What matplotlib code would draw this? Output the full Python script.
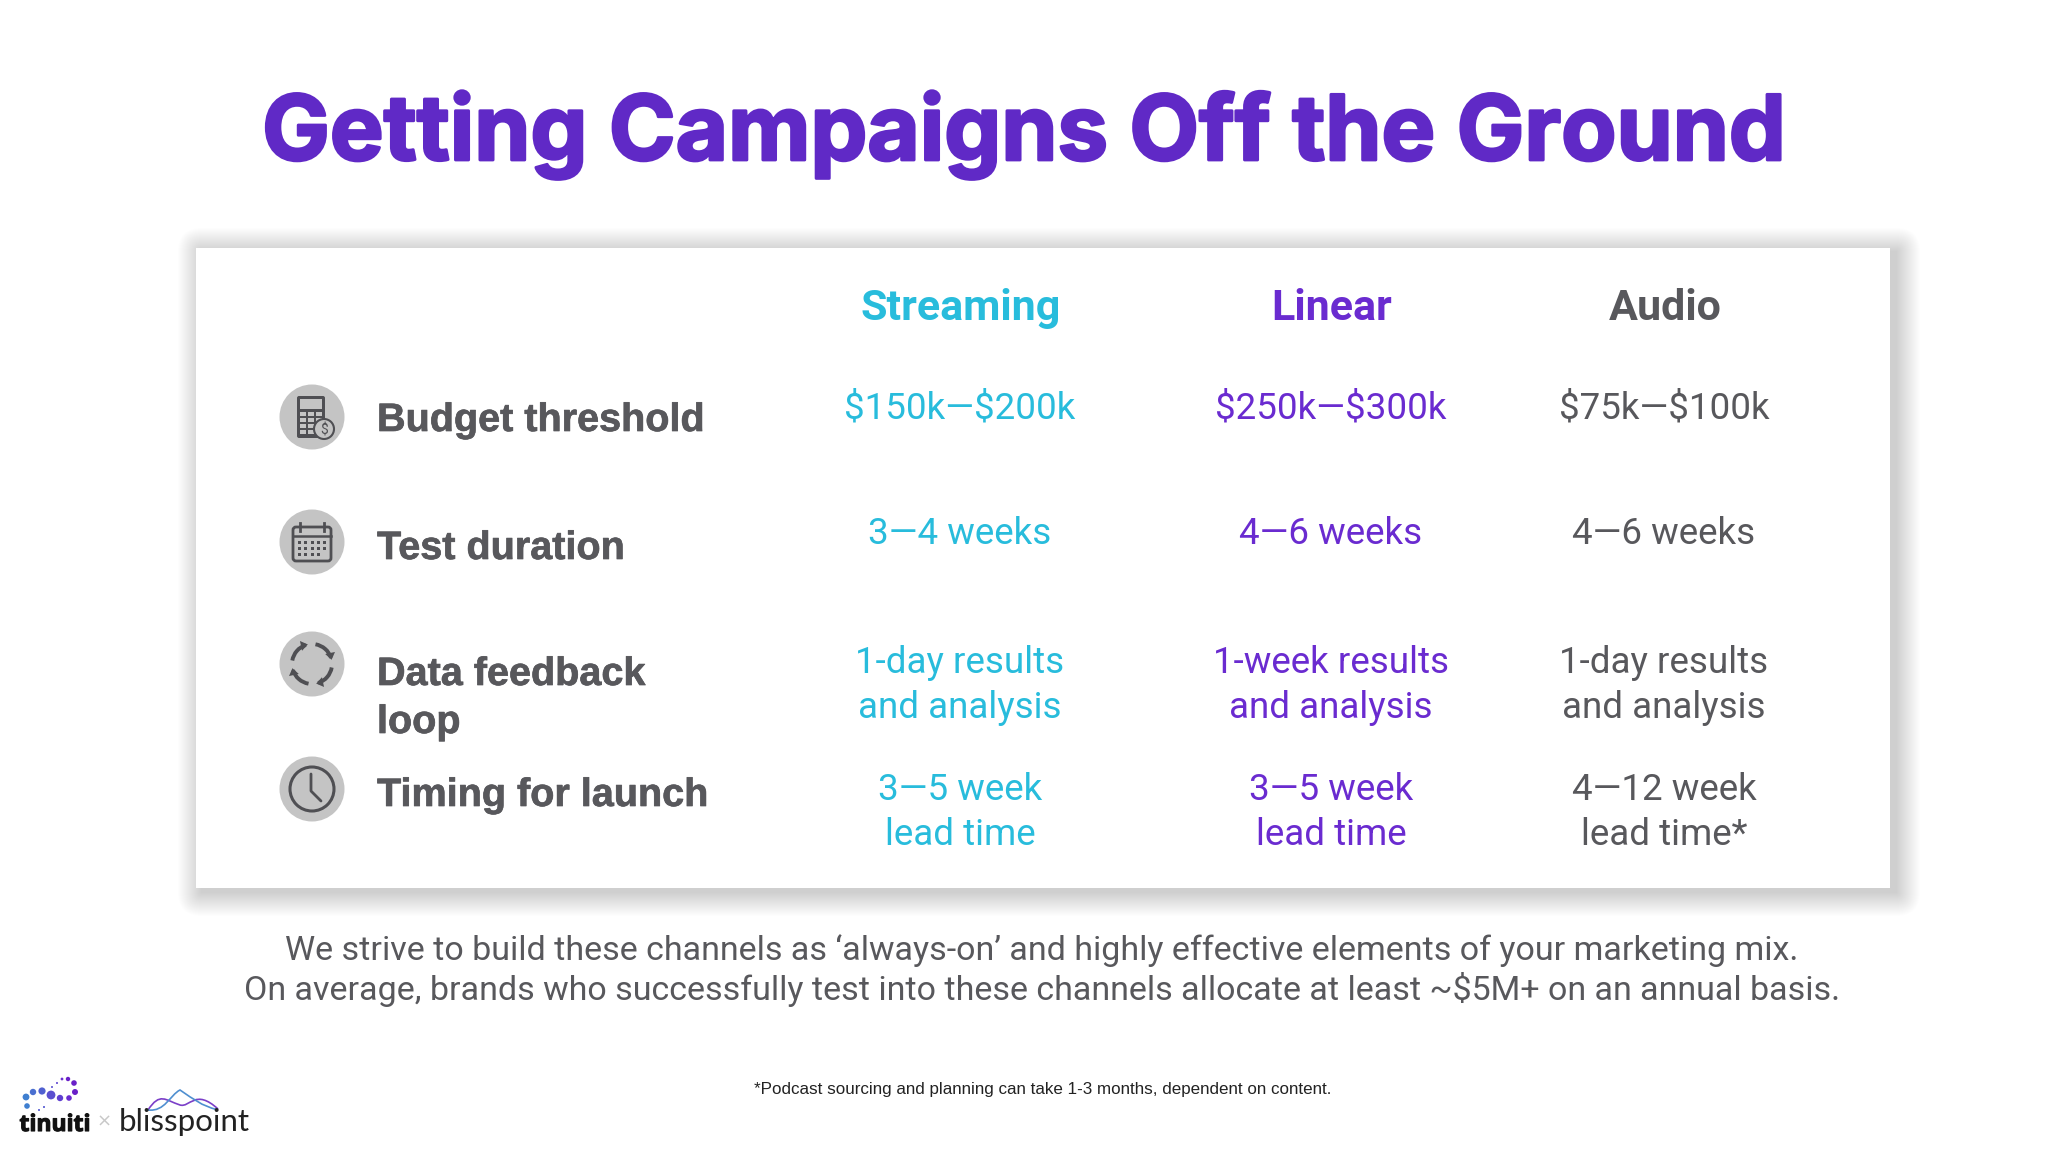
import numpy as np
import matplotlib
matplotlib.use("Agg")
import matplotlib.pyplot as plt
import matplotlib.patheffects as pe
from matplotlib.patches import Circle, Rectangle, FancyBboxPatch, Arc, Polygon, PathPatch
from matplotlib.path import Path

title = "Getting Campaigns Off the Ground"
channels = ["Streaming", "Linear", "Audio"]
row_labels = ["Budget threshold", "Test duration", "Data feedback\nloop", "Timing for launch"]
streaming_vals = ["$150k—$200k", "3—4 weeks", "1-day results\nand analysis", "3—5 week\nlead time"]
linear_vals = ["$250k—$300k", "4—6 weeks", "1-week results\nand analysis", "3—5 week\nlead time"]
audio_vals = ["$75k—$100k", "4—6 weeks", "1-day results\nand analysis", "4—12 week\nlead time*"]
bottom_lines = ["We strive to build these channels as ‘always-on’ and highly effective elements of your marketing mix.",
                "On average, brands who successfully test into these channels allocate at least ~$5M+ on an annual basis."]
footnote = "*Podcast sourcing and planning can take 1-3 months, dependent on content."

PURPLE = "#6a2bd0"
TITLE_PURPLE = "#6029c6"
CYAN = "#28bcdc"
GREY = "#58585c"
ICON = "#4f4f53"
ICON_BG = "#c4c4c4"

col_x = [960, 1331, 1664]
col_colors = [CYAN, PURPLE, GREY]
row_base = [419, 544, [673, 718], [800, 845]]
label_base = [431, 559, [685, 733], 806]
icon_y = [417, 542, 664, 789]
icon_x = 312

fig = plt.figure(figsize=(20.48, 11.52), dpi=100)
ax = fig.add_axes([0, 0, 1, 1])
ax.set_xlim(0, 2048)
ax.set_ylim(1152, 0)
ax.axis("off")

# title
ax.text(1024, 160, title, ha="center", va="baseline", fontsize=65, fontweight="bold",
        family="Inter", color=TITLE_PURPLE,
        path_effects=[pe.withStroke(linewidth=2, foreground=TITLE_PURPLE)])

# card with soft shadow, pushed right and down
x0, y0, x1, y1 = 196, 248, 1890, 888
for g in np.arange(24, 0, -1.0):
    ax.add_patch(FancyBboxPatch((x0 - g + 6, y0 - g + 4), x1 - x0 + 2 * g, y1 - y0 + 2 * g,
                                boxstyle="round,pad=0,rounding_size=%f" % g,
                                fc="black", ec="none", alpha=0.009))
ax.add_patch(Rectangle((x0, y0), x1 - x0, y1 - y0, fc="white", ec="none"))

# headers
for x, name, c in zip(col_x, channels, col_colors):
    ax.text(x + 1, 320, name, ha="center", va="baseline", fontsize=31, fontweight="bold",
            family="Roboto", color=c)


def put_lines(x, base, s, **kw):
    lines = s.split("\n")
    bases = base if isinstance(base, list) else [base]
    for ln, b in zip(lines, bases):
        ax.text(x, b, ln, va="baseline", parse_math=False, **kw)


for vals, x, c in zip([streaming_vals, linear_vals, audio_vals], col_x, col_colors):
    for v, b in zip(vals, row_base):
        put_lines(x, b, v, ha="center", fontsize=26.5, family="Roboto", color=c)

for lab, b in zip(row_labels, label_base):
    put_lines(377, b, lab, ha="left", fontsize=28.5, fontweight="bold", family="Liberation Sans", color=GREY,
              path_effects=[pe.withStroke(linewidth=0.5, foreground=GREY)])

# icons
for y in icon_y:
    ax.add_patch(Circle((icon_x, y), 32.5, fc=ICON_BG, ec="none"))

# calculator
cy = icon_y[0]
ax.add_patch(FancyBboxPatch((297, cy - 21), 28, 42, boxstyle="round,pad=0,rounding_size=2", fc=ICON, ec="none"))
ax.add_patch(Rectangle((300, cy - 18), 22, 10, fc=ICON_BG, ec="none"))
for i in range(4):
    for j in range(3):
        ax.add_patch(Rectangle((300 + j * 8, cy - 5 + i * 6), 6, 4.2, fc=ICON_BG, ec="none"))
ax.add_patch(Circle((324, cy + 12), 10, fc=ICON_BG, ec=ICON, lw=1.5))
ax.text(324, cy + 12, "$", ha="center", va="center_baseline", fontsize=10, color=ICON,
        family="Roboto", parse_math=False)

# calendar
cy = icon_y[1]
ax.add_patch(FancyBboxPatch((293, cy - 15), 38, 34, boxstyle="round,pad=0,rounding_size=3", fc="none", ec=ICON, lw=2))
ax.plot([293, 331], [cy - 6, cy - 6], color=ICON, lw=1.8)
for px in [300, 324]:
    ax.plot([px, px], [cy - 19, cy - 11], color=ICON, lw=2)
for i in range(3):
    for j in range(5 if i < 2 else 4):
        ax.add_patch(Rectangle((298 + j * 6.3, cy - 1 + i * 6.2), 3, 3, fc=ICON, ec="none"))

# circular arrows
cy = icon_y[2]
for start in [0, 90, 180, 270]:
    ax.add_patch(Arc((icon_x, cy), 40, 40, theta1=start + 10, theta2=start + 72, color=ICON, lw=2.8))
    t = np.deg2rad(start + 78)
    tip = np.array([icon_x + 20 * np.cos(t), cy + 20 * np.sin(t)])
    d = np.array([-np.sin(t), np.cos(t)])
    n = np.array([np.cos(t), np.sin(t)])
    ax.add_patch(Polygon([tip, tip - 7 * d + 5 * n, tip - 7 * d - 5 * n], fc=ICON, ec="none"))

# clock
cy = icon_y[3]
ax.add_patch(Circle((icon_x, cy), 22, fc="none", ec=ICON, lw=2.2))
ax.plot([311, 311, 321], [cy - 15, cy + 2, cy + 12], color=ICON, lw=2, solid_capstyle="round")

# bottom copy
ax.text(1042, 960, bottom_lines[0], ha="center", va="baseline", fontsize=24.5, family="Roboto",
        color=GREY, parse_math=False)
ax.text(1042, 1000, bottom_lines[1], ha="center", va="baseline", fontsize=24.5, family="Roboto",
        color=GREY, parse_math=False)
ax.text(1043, 1094, footnote, ha="center", va="baseline", fontsize=12.25, family="Liberation Sans", color="#222222")

# logos
ax.text(55, 1131, "tinuiti", ha="center", va="baseline", fontsize=16.5, fontweight="bold",
        family="Open Sans", color="#111111",
        path_effects=[pe.withStroke(linewidth=0.8, foreground="#111111")])
ax.text(104, 1127, "×", ha="center", va="baseline", fontsize=13, color="#c8c8c8")
ax.text(184, 1131, "blisspoint", ha="center", va="baseline", fontsize=22.5, family="Lato", color="#222222")
dots = [(26, 1097, 3.4, "#3f7fd0"), (27, 1106, 2.8, "#3f7fd0"), (33, 1092, 3.2, "#4a6fd0"),
        (42, 1091, 3.6, "#5060d0"), (51, 1095, 4.4, "#5a4fd0"), (60, 1098, 3.2, "#5f3fd0"),
        (69, 1098, 2.8, "#6a2bd0"), (75, 1092, 3, "#6a20c8"), (74, 1083, 2.8, "#6a20c8"),
        (68, 1079, 2.2, "#6a20c8"), (62, 1079, 1.4, "#6a30d0"), (57, 1083, 1, "#5a40d0"),
        (52, 1087, 1, "#5a50d0"), (39, 1110, 1, "#4a50d0"), (44, 1107, 1, "#4a50d0")]
for dx, dy, r, c in dots:
    ax.add_patch(Circle((dx, dy), r, fc=c, ec="none"))
for verts, c in [([(148, 1110), (160, 1092), (165, 1100), (180, 1105), (190, 1108), (195, 1088), (218, 1109)], "#7b3fc8"),
                 ([(148, 1110), (165, 1112), (170, 1095), (180, 1090), (195, 1100), (200, 1105), (218, 1110)], "#4f8fd0")]:
    codes = [Path.MOVETO] + [Path.CURVE4] * 6
    ax.add_patch(PathPatch(Path(verts, codes), fc="none", ec=c, lw=1.2))

fig.savefig("out.png", dpi=100)
